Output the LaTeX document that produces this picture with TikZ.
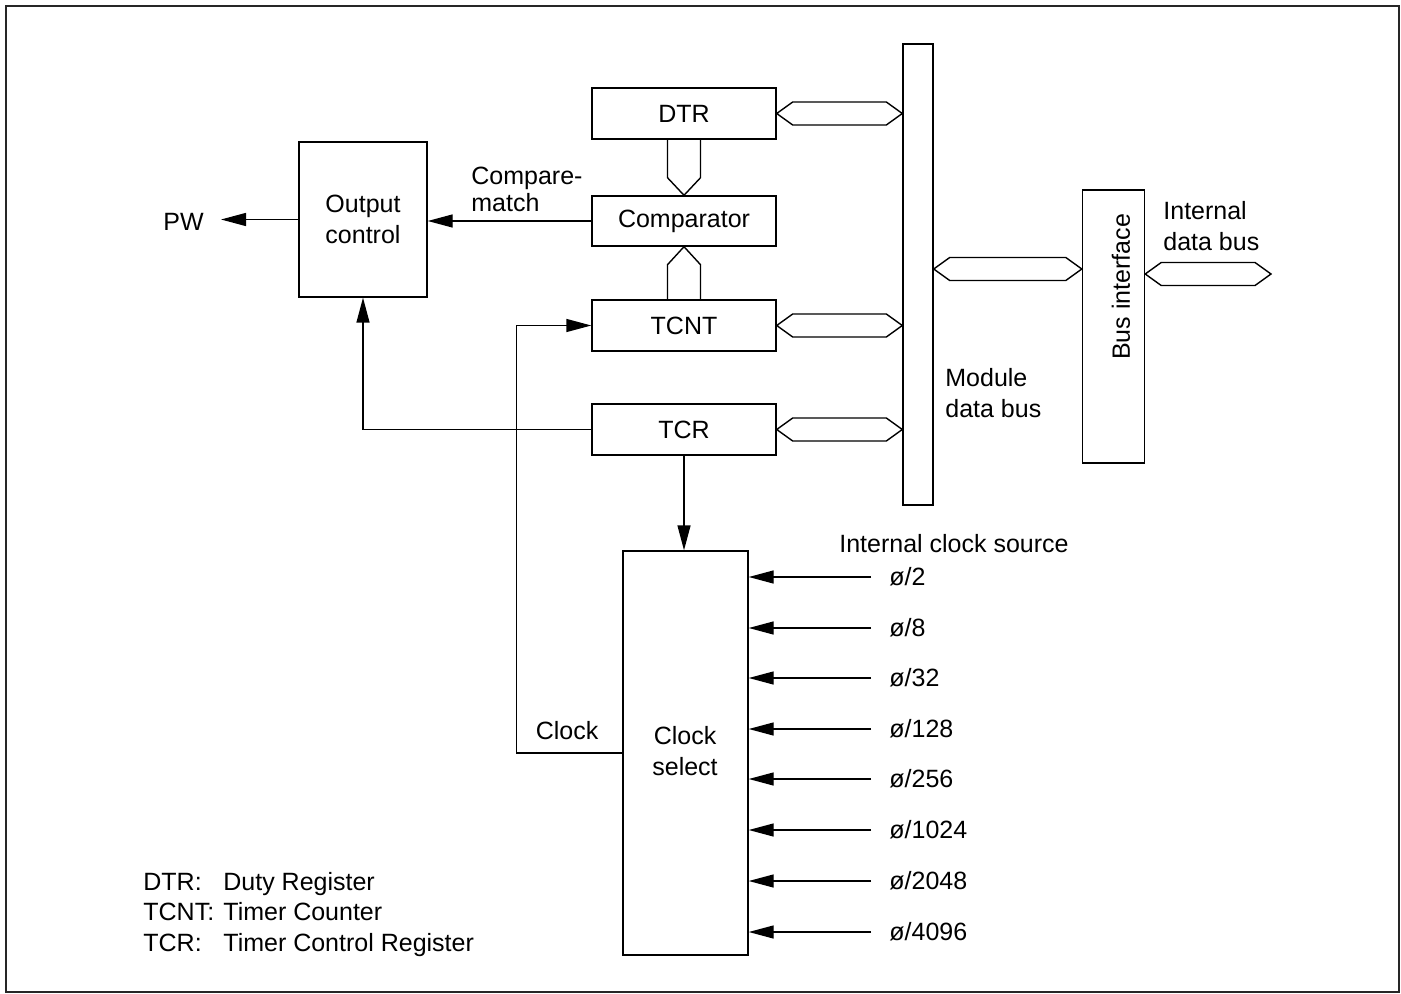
\documentclass[tikz,border=0pt]{standalone}
\usepackage{fontspec}
\setmainfont{Liberation Sans}
\usetikzlibrary{arrows.meta,calc}
\tikzset{
  ln/.style={line width=0.7pt, black},
  blk/.style={draw, ln, fill=white, inner sep=0pt, align=center, font=\fontsize{12.5}{15.5}\selectfont},
  txt/.style={inner sep=0pt, align=left, font=\fontsize{12.5}{15.5}\selectfont},
  arr/.style={ln, -{Triangle[length=12.5pt,width=6.5pt]}},
}
\newcommand\hbus[2]{%
  \draw[ln] (#1) -- ($(#1)+(16,-11.5)$) -- ($(#2)+(-16,-11.5)$) -- (#2) -- ($(#2)+(-16,11.5)$) -- ($(#1)+(16,11.5)$) -- cycle;}
\begin{document}
\begin{tikzpicture}[x=0.5pt,y=-0.5pt]
\useasboundingbox (0,0) rectangle (1401,994);
\draw[line width=1.1pt, black!85] (6,6) rectangle (1399,992);

% registers
\node[blk, minimum width=92pt, minimum height=25.5pt] (dtr) at (684,113.5) {DTR};
\node[blk, minimum width=92pt, minimum height=25pt] (cmp) at (684,221) {Comparator};
\node[blk, minimum width=92pt, minimum height=25.5pt] (tcnt) at (684,325.5) {TCNT};
\node[blk, minimum width=92pt, minimum height=25.5pt] (tcr) at (684,429.5) {TCR};
\node[blk, minimum width=64pt, minimum height=77.5pt] (oc) at (363,219.5) {Output\\control};
\node[blk, minimum width=15pt, minimum height=230.5pt] (mdb) at (918,274.5) {};
\node[blk, minimum width=31pt, minimum height=136.5pt] (bi) at (1113.5,326.5) {};
\node[txt, rotate=90] (bitxt) at (1121,287) {Bus interface};
\node[blk, minimum width=62.5pt, minimum height=202pt] (cs) at (685.5,753) {};
\node[txt, align=center] (cstxt) at (685,751) {Clock\\select};

% labels
\node[txt, anchor=west] (pw) at (163,222) {PW};
\node[txt, anchor=south west, font=\fontsize{12.5}{13.5}\selectfont] (cm) at (471,212) {Compare-\\match};
\node[txt, anchor=west] (mdbl) at (945,393) {Module\\data bus};
\node[txt, anchor=west] (idb) at (1163,226) {Internal\\data bus};
\node[txt] (clk) at (567,731) {Clock};
\node[txt] (ics) at (954,544) {Internal clock source};

% buses
\hbus{dtr.east}{dtr.east -| mdb.west}
\hbus{tcnt.east}{tcnt.east -| mdb.west}
\hbus{tcr.east}{tcr.east -| mdb.west}
\coordinate (b1) at (mdb.east |- 0,269);
\coordinate (b2) at (bi.west |- 0,269);
\hbus{b1}{b2}
\coordinate (i1) at (bi.east |- 0,274);
\coordinate (i2) at (1271,274);
\hbus{i1}{i2}
\draw[ln] ($(dtr.south)+(-16.5,0)$) -- ($(dtr.south)+(-16.5,38)$) -- (cmp.north) -- ($(dtr.south)+(16.5,38)$) -- ($(dtr.south)+(16.5,0)$);
\draw[ln] ($(tcnt.north)+(-16.5,0)$) -- ($(cmp.south)+(-16.5,18)$) -- (cmp.south) -- ($(cmp.south)+(16.5,18)$) -- ($(tcnt.north)+(16.5,0)$);

% signals
\coordinate (pwtip) at (221,219.5);
\draw[arr] (oc.west) -- (pwtip);
\draw[arr] (cmp.west) -- (cmp.west -| oc.east);
\draw[arr] (tcr.west) -| (oc.south);
\draw[arr] (tcr.south) -- (tcr.south |- cs.north);
\draw[arr] (cs.west) -- ++(-106,0) |- (tcnt.west);

% clock inputs
\foreach \y/\t [count=\i] in {577/2,628/8,678/32,729/128,779/256,830/1024,881/2048,932/4096}{
  \node[txt, anchor=west] (ck\i) at (889,\y) {ø/\t};
  \draw[arr] ([xshift=-9pt]ck\i.west) -- (ck\i.west -| cs.east);
}

% legend
\node[txt, anchor=base west] (l1) at (143,890) {DTR:};
\node[txt, anchor=base west] (l1b) at (223,890) {Duty Register};
\node[txt, anchor=base west] (l2) at (143,920) {TCNT:};
\node[txt, anchor=base west] (l2b) at (223,920) {Timer Counter};
\node[txt, anchor=base west] (l3) at (143,951) {TCR:};
\node[txt, anchor=base west] (l3b) at (223,951) {Timer Control Register};
\end{tikzpicture}
\end{document}
